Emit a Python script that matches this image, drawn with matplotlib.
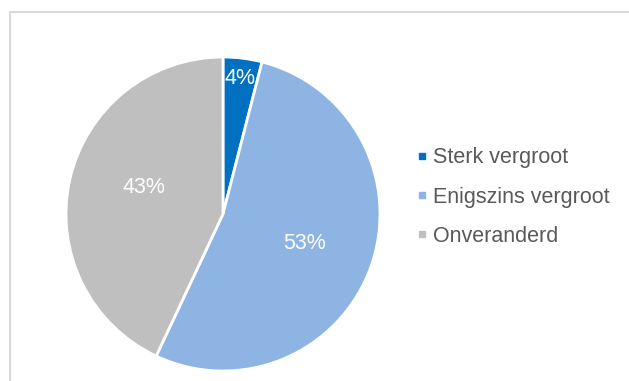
import numpy as np
import matplotlib.pyplot as plt
from matplotlib.lines import Line2D

plt.rcParams['font.family'] = ['Liberation Sans', 'DejaVu Sans']

# ----------
# Data

labels = ['Sterk vergroot', 'Enigszins vergroot', 'Onveranderd']
values = [4, 53, 43]
colors = ['#0070C0', '#8EB4E3', '#BFBFBF']

# ----------
# Figure

W, H = 629, 381
fig = plt.figure(figsize=(W / 100, H / 100), dpi=100)

# pie axes: center ~(223,214) px, radius ~157 px
cx, cy, r = 223, 214, 157
ax = fig.add_axes([(cx - r) / W, (H - cy - r) / H, 2 * r / W, 2 * r / H])

wedges, texts, autotexts = ax.pie(
    values, colors=colors, startangle=90, counterclock=False,
    autopct='%1.0f%%', pctdistance=0.55,
    wedgeprops=dict(edgecolor='white', linewidth=2),
    textprops=dict(color='white', fontsize=15.5))

# the small slice's label sits near the rim
ang = np.deg2rad(90 - 360 * values[0] / 100 / 2)
autotexts[0].set_position((0.87 * np.cos(ang), 0.87 * np.sin(ang)))
# grey label a bit higher, as in the original
x2, y2 = autotexts[2].get_position()
autotexts[2].set_position((x2 + 0.035, y2 + 0.05))

ax.set_xlim(-1, 1)
ax.set_ylim(-1, 1)
ax.set_aspect('equal')

# legend
handles = [Line2D([], [], marker='s', linestyle='none', markersize=5,
                  markerfacecolor=c, markeredgecolor=c) for c in colors]
leg = fig.legend(handles, labels, loc='center left',
                 bbox_to_anchor=(0.632, 1 - 197 / H), frameon=False,
                 handlelength=0.5, handletextpad=0.26, labelspacing=0.85,
                 fontsize=15.5, labelcolor='#595959')

# chart-area border (top and left visible)
bc = '#D9D9D9'
fig.add_artist(Line2D([9.5 / W, 1], [1 - 11.5 / H] * 2, color=bc, lw=1.5))
fig.add_artist(Line2D([9.5 / W] * 2, [0, 1 - 11.5 / H], color=bc, lw=1.5))

fig.savefig('out.png', dpi=100)
